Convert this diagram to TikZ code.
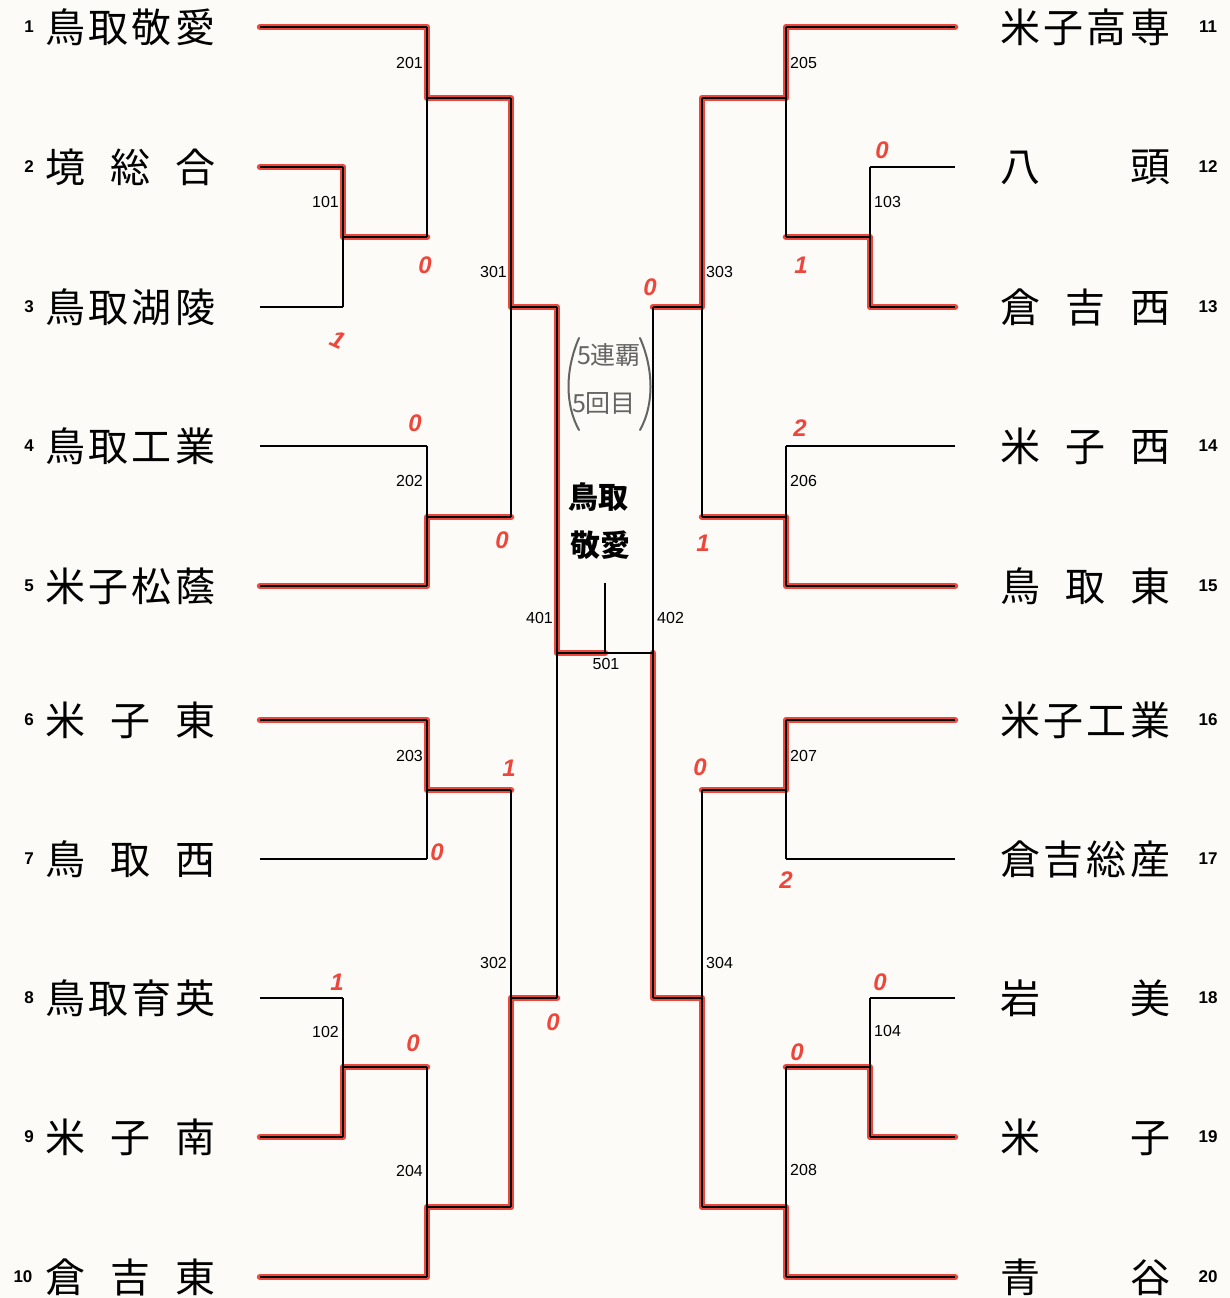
\documentclass[tikz,border=0pt]{standalone}
\usepackage{fontspec}
\newfontfamily\jp{Noto Sans CJK JP}
\newfontfamily\lat{Liberation Sans}
\definecolor{redmark}{RGB}{238,70,58}
\definecolor{paper}{RGB}{252,251,247}
\definecolor{pencil}{RGB}{100,100,100}
\begin{document}
\begin{tikzpicture}[x=1pt,y=-1pt,
  bl/.style={line width=1.8pt,black},
  rd/.style={line width=6.5pt,redmark,line cap=round,line join=round},
  team/.style={font=\jp\fontsize{40}{40}\selectfont,inner sep=0pt,anchor=west},
  seed/.style={font=\lat\bfseries\fontsize{17}{17}\selectfont,inner sep=0pt},
  mlabL/.style={font=\lat\fontsize{16}{16}\selectfont,inner sep=0pt,anchor=east},
  mlabR/.style={font=\lat\fontsize{16}{16}\selectfont,inner sep=0pt,anchor=west},
  mlabC/.style={font=\lat\fontsize{16}{16}\selectfont,inner sep=0pt},
  score/.style={font=\lat\bfseries\itshape\fontsize{24}{24}\selectfont,text=redmark,inner sep=0pt},
  memo/.style={font=\jp\fontsize{25}{25}\selectfont,text=pencil,inner sep=0pt},
  champ/.style={font=\jp\bfseries\fontsize{30}{30}\selectfont,inner sep=0pt}]
\fill[paper] (0,0) rectangle (1230,1298);
\useasboundingbox (0,0) rectangle (1230,1298);

% ---------- red winner paths ----------
\draw[rd] (260,27)--(427,27)--(427,98)--(511,98)--(511,307)--(557,307)--(557,653)--(605,653);
\draw[rd] (260,167)--(343,167)--(343,237)--(427,237);
\draw[rd] (260,586)--(427,586)--(427,517)--(511,517);
\draw[rd] (260,720)--(427,720)--(427,790)--(511,790);
\draw[rd] (260,1137)--(343,1137)--(343,1067)--(427,1067);
\draw[rd] (260,1277)--(427,1277)--(427,1207)--(511,1207)--(511,998)--(557,998);
\draw[rd] (955,27)--(786,27)--(786,98)--(702,98)--(702,307)--(653,307);
\draw[rd] (955,307)--(870,307)--(870,237)--(786,237);
\draw[rd] (955,586)--(786,586)--(786,517)--(702,517);
\draw[rd] (955,720)--(786,720)--(786,790)--(702,790);
\draw[rd] (955,1137)--(870,1137)--(870,1067)--(786,1067);
\draw[rd] (955,1277)--(786,1277)--(786,1207)--(702,1207)--(702,998)--(653,998)--(653,653);

% ---------- black bracket, left ----------
\draw[bl] (260,27)--(427,27);
\draw[bl] (260,167)--(343,167);
\draw[bl] (260,307)--(343,307);
\draw[bl] (260,446)--(427,446);
\draw[bl] (260,586)--(427,586);
\draw[bl] (260,720)--(427,720);
\draw[bl] (260,859)--(427,859);
\draw[bl] (260,998)--(343,998);
\draw[bl] (260,1137)--(343,1137);
\draw[bl] (260,1277)--(427,1277);
\draw[bl] (343,167)--(343,307); \draw[bl] (343,237)--(427,237);
\draw[bl] (427,27)--(427,237);  \draw[bl] (427,98)--(511,98);
\draw[bl] (427,446)--(427,586); \draw[bl] (427,517)--(511,517);
\draw[bl] (511,98)--(511,517);  \draw[bl] (511,307)--(557,307);
\draw[bl] (427,720)--(427,859); \draw[bl] (427,790)--(511,790);
\draw[bl] (343,998)--(343,1137); \draw[bl] (343,1067)--(427,1067);
\draw[bl] (427,1067)--(427,1277); \draw[bl] (427,1207)--(511,1207);
\draw[bl] (511,790)--(511,1207); \draw[bl] (511,998)--(557,998);
\draw[bl] (557,307)--(557,998);
\draw[bl] (557,653)--(653,653);
\draw[bl] (605,653)--(605,583);

% ---------- black bracket, right ----------
\draw[bl] (955,27)--(786,27);
\draw[bl] (955,167)--(870,167);
\draw[bl] (955,307)--(870,307);
\draw[bl] (955,446)--(786,446);
\draw[bl] (955,586)--(786,586);
\draw[bl] (955,720)--(786,720);
\draw[bl] (955,859)--(786,859);
\draw[bl] (955,998)--(870,998);
\draw[bl] (955,1137)--(870,1137);
\draw[bl] (955,1277)--(786,1277);
\draw[bl] (870,167)--(870,307); \draw[bl] (870,237)--(786,237);
\draw[bl] (786,27)--(786,237);  \draw[bl] (786,98)--(702,98);
\draw[bl] (786,446)--(786,586); \draw[bl] (786,517)--(702,517);
\draw[bl] (702,98)--(702,517);  \draw[bl] (702,307)--(653,307);
\draw[bl] (786,720)--(786,859); \draw[bl] (786,790)--(702,790);
\draw[bl] (870,998)--(870,1137); \draw[bl] (870,1067)--(786,1067);
\draw[bl] (786,1067)--(786,1277); \draw[bl] (786,1207)--(702,1207);
\draw[bl] (702,790)--(702,1207); \draw[bl] (702,998)--(653,998);
\draw[bl] (653,307)--(653,998);

% ---------- seeds ----------
\node[seed] (s1) at (29,27) {1};
\node[seed] (s2) at (29,167) {2};
\node[seed] (s3) at (29,307) {3};
\node[seed] (s4) at (29,446) {4};
\node[seed] (s5) at (29,586) {5};
\node[seed] (s6) at (29,720) {6};
\node[seed] (s7) at (29,859) {7};
\node[seed] (s8) at (29,998) {8};
\node[seed] (s9) at (29,1137) {9};
\node[seed] (s10) at (23,1277) {10};
\node[seed] (s11) at (1208,27) {11};
\node[seed] (s12) at (1208,167) {12};
\node[seed] (s13) at (1208,307) {13};
\node[seed] (s14) at (1208,446) {14};
\node[seed] (s15) at (1208,586) {15};
\node[seed] (s16) at (1208,720) {16};
\node[seed] (s17) at (1208,859) {17};
\node[seed] (s18) at (1208,998) {18};
\node[seed] (s19) at (1208,1137) {19};
\node[seed] (s20) at (1208,1277) {20};

% ---------- team names ----------
\node[team] (t1) at (45,27) {\makebox[170pt]{鳥\hfill 取\hfill 敬\hfill 愛}};
\node[team] (t2) at (45,167) {\makebox[170pt]{境\hfill 総\hfill 合}};
\node[team] (t3) at (45,307) {\makebox[170pt]{鳥\hfill 取\hfill 湖\hfill 陵}};
\node[team] (t4) at (45,446) {\makebox[170pt]{鳥\hfill 取\hfill 工\hfill 業}};
\node[team] (t5) at (45,586) {\makebox[170pt]{米\hfill 子\hfill 松\hfill 蔭}};
\node[team] (t6) at (45,720) {\makebox[170pt]{米\hfill 子\hfill 東}};
\node[team] (t7) at (45,859) {\makebox[170pt]{鳥\hfill 取\hfill 西}};
\node[team] (t8) at (45,998) {\makebox[170pt]{鳥\hfill 取\hfill 育\hfill 英}};
\node[team] (t9) at (45,1137) {\makebox[170pt]{米\hfill 子\hfill 南}};
\node[team] (t10) at (45,1277) {\makebox[170pt]{倉\hfill 吉\hfill 東}};
\node[team] (t11) at (1000,27) {\makebox[170pt]{米\hfill 子\hfill 高\hfill 専}};
\node[team] (t12) at (1000,167) {\makebox[170pt]{八\hfill 頭}};
\node[team] (t13) at (1000,307) {\makebox[170pt]{倉\hfill 吉\hfill 西}};
\node[team] (t14) at (1000,446) {\makebox[170pt]{米\hfill 子\hfill 西}};
\node[team] (t15) at (1000,586) {\makebox[170pt]{鳥\hfill 取\hfill 東}};
\node[team] (t16) at (1000,720) {\makebox[170pt]{米\hfill 子\hfill 工\hfill 業}};
\node[team] (t17) at (1000,859) {\makebox[170pt]{倉\hfill 吉\hfill 総\hfill 産}};
\node[team] (t18) at (1000,998) {\makebox[170pt]{岩\hfill 美}};
\node[team] (t19) at (1000,1137) {\makebox[170pt]{米\hfill 子}};
\node[team] (t20) at (1000,1277) {\makebox[170pt]{青\hfill 谷}};

% ---------- match numbers ----------
\node[mlabL] (m201) at (423,63) {201};
\node[mlabL] (m101) at (339,202) {101};
\node[mlabL] (m301) at (507,272) {301};
\node[mlabL] (m202) at (423,481) {202};
\node[mlabL] (m401) at (553,618) {401};
\node[mlabC] (m501) at (606,664) {501};
\node[mlabR] (m402) at (657,618) {402};
\node[mlabL] (m203) at (423,756) {203};
\node[mlabL] (m302) at (507,963) {302};
\node[mlabL] (m102) at (339,1032) {102};
\node[mlabL] (m204) at (423,1171) {204};
\node[mlabR] (m205) at (790,63) {205};
\node[mlabR] (m103) at (874,202) {103};
\node[mlabR] (m303) at (706,272) {303};
\node[mlabR] (m206) at (790,481) {206};
\node[mlabR] (m207) at (790,756) {207};
\node[mlabR] (m304) at (706,963) {304};
\node[mlabR] (m104) at (874,1031) {104};
\node[mlabR] (m208) at (790,1170) {208};

% ---------- handwritten scores ----------
\node[score] (c1) at (425,265) {0};
\node[score,rotate=-25] (c2) at (338,340) {1};
\node[score] (c3) at (415,423) {0};
\node[score] (c4) at (502,540) {0};
\node[score] (c5) at (509,768) {1};
\node[score] (c6) at (437,852) {0};
\node[score] (c7) at (337,982) {1};
\node[score] (c8) at (413,1043) {0};
\node[score] (c9) at (553,1022) {0};
\node[score] (c10) at (650,287) {0};
\node[score] (c11) at (882,150) {0};
\node[score] (c12) at (801,265) {1};
\node[score] (c13) at (800,428) {2};
\node[score] (c14) at (703,543) {1};
\node[score] (c15) at (700,767) {0};
\node[score] (c16) at (786,880) {2};
\node[score] (c17) at (880,982) {0};
\node[score] (c18) at (797,1052) {0};

% ---------- champion memo ----------
\draw[pencil,line width=2pt,line cap=round] (579,338) .. controls (565,370) and (565,405) .. (579,430);
\draw[pencil,line width=2pt,line cap=round] (640,338) .. controls (654,370) and (654,405) .. (640,430);
\node[memo] (memo1) at (609,355) {5連覇};
\node[memo] (memo2) at (604,403) {5回目};
\node[champ] (w1) at (598,497) {鳥取};
\node[champ] (w2) at (600,545) {敬愛};
\end{tikzpicture}
\end{document}
